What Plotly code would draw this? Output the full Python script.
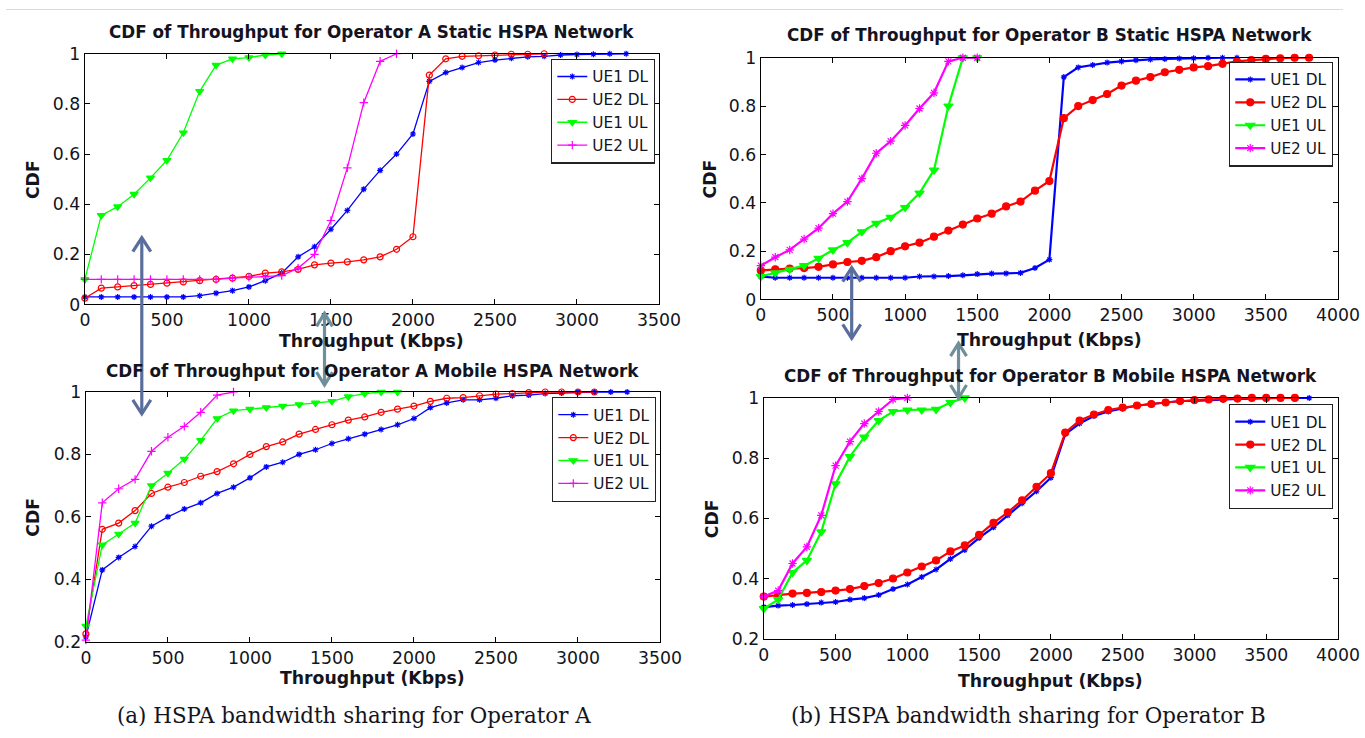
import plotly.graph_objects as go

# ---------------- data ----------------
# Operator A static
a_s_x_ue1dl = [0,100,200,300,400,500,600,700,800,900,1000,1100,1200,1300,1400,1500,1600,1700,1800,1900,2000,2100,2200,2300,2400,2500,2600,2700,2800,2900,3000,3100,3200,3300]
a_s_ue1dl = [0.03,0.03,0.03,0.03,0.03,0.03,0.03,0.035,0.045,0.055,0.07,0.095,0.125,0.19,0.23,0.30,0.375,0.46,0.535,0.60,0.68,0.89,0.925,0.945,0.965,0.975,0.982,0.988,0.99,0.995,0.997,0.998,1.0,1.0]
a_s_x_ue2dl = [0,100,200,300,400,500,600,700,800,900,1000,1100,1200,1300,1400,1500,1600,1700,1800,1900,2000,2100,2200,2300,2400,2500,2600,2700,2800]
a_s_ue2dl = [0.025,0.065,0.07,0.075,0.08,0.085,0.09,0.095,0.10,0.105,0.112,0.125,0.13,0.14,0.158,0.165,0.17,0.178,0.19,0.22,0.27,0.915,0.98,0.99,0.992,0.995,0.998,0.998,1.0]
a_s_x_ue1ul = [0,100,200,300,400,500,600,700,800,900,1000,1100,1200]
a_s_ue1ul = [0.10,0.355,0.39,0.44,0.505,0.575,0.685,0.85,0.955,0.98,0.985,0.995,1.0]
a_s_x_ue2ul = [0,100,200,300,400,500,600,700,800,900,1000,1100,1200,1300,1400,1500,1600,1700,1800,1900]
a_s_ue2ul = [0.10,0.10,0.10,0.10,0.10,0.10,0.10,0.10,0.10,0.105,0.108,0.11,0.115,0.145,0.20,0.335,0.545,0.805,0.97,1.0]

# Operator B static
b_s_x_ue1dl = [0,100,200,300,400,500,600,700,800,900,1000,1100,1200,1300,1400,1500,1600,1700,1800,1900,2000,2100,2200,2300,2400,2500,2600,2700,2800,2900,3000,3100,3200,3300]
b_s_ue1dl = [0.095,0.09,0.09,0.09,0.09,0.09,0.09,0.09,0.09,0.09,0.09,0.095,0.095,0.097,0.10,0.105,0.107,0.108,0.11,0.13,0.165,0.92,0.96,0.97,0.98,0.985,0.99,0.993,0.995,0.997,0.998,1.0,1.0,1.0]
b_s_x_ue2dl = [0,100,200,300,400,500,600,700,800,900,1000,1100,1200,1300,1400,1500,1600,1700,1800,1900,2000,2100,2200,2300,2400,2500,2600,2700,2800,2900,3000,3100,3200,3300,3400,3500,3600,3700,3800]
b_s_ue2dl = [0.12,0.125,0.128,0.13,0.135,0.145,0.155,0.16,0.175,0.20,0.22,0.235,0.26,0.285,0.31,0.335,0.355,0.385,0.405,0.45,0.49,0.75,0.80,0.825,0.85,0.885,0.905,0.92,0.94,0.95,0.96,0.965,0.975,0.985,0.99,0.995,0.998,1.0,1.0]
b_s_x_ue1ul = [0,100,200,300,400,500,600,700,800,900,1000,1100,1200,1300,1400,1500]
b_s_ue1ul = [0.095,0.11,0.125,0.14,0.17,0.205,0.235,0.28,0.315,0.34,0.38,0.44,0.535,0.80,1.0,1.0]
b_s_x_ue2ul = [0,100,200,300,400,500,600,700,800,900,1000,1100,1200,1300,1400,1500]
b_s_ue2ul = [0.14,0.175,0.205,0.25,0.295,0.355,0.405,0.50,0.605,0.655,0.72,0.79,0.855,0.985,1.0,1.0]

# Operator A mobile
a_m_x_ue1dl = [0,100,200,300,400,500,600,700,800,900,1000,1100,1200,1300,1400,1500,1600,1700,1800,1900,2000,2100,2200,2300,2400,2500,2600,2700,2800,2900,3000,3100,3200,3300]
a_m_ue1dl = [0.215,0.43,0.47,0.505,0.57,0.60,0.625,0.645,0.675,0.695,0.725,0.76,0.775,0.80,0.815,0.835,0.85,0.865,0.88,0.895,0.915,0.95,0.965,0.975,0.975,0.98,0.988,0.99,0.995,0.997,1.0,1.0,1.0,1.0]
a_m_x_ue2dl = [0,100,200,300,400,500,600,700,800,900,1000,1100,1200,1300,1400,1500,1600,1700,1800,1900,2000,2100,2200,2300,2400,2500,2600,2700,2800,2900,3000,3100]
a_m_ue2dl = [0.225,0.56,0.58,0.62,0.675,0.695,0.71,0.73,0.745,0.77,0.80,0.825,0.84,0.865,0.88,0.895,0.91,0.92,0.935,0.945,0.955,0.97,0.98,0.982,0.988,0.993,0.995,0.998,1.0,1.0,1.0,1.0]
a_m_x_ue1ul = [0,100,200,300,400,500,600,700,800,900,1000,1100,1200,1300,1400,1500,1600,1700,1800,1900]
a_m_ue1ul = [0.25,0.51,0.545,0.58,0.70,0.74,0.785,0.845,0.915,0.94,0.945,0.95,0.955,0.96,0.965,0.97,0.985,0.995,1.0,1.0]
a_m_x_ue2ul = [0,100,200,300,400,500,600,700,800,900]
a_m_ue2ul = [0.205,0.645,0.69,0.72,0.81,0.855,0.89,0.935,0.99,1.0]

# Operator B mobile
b_m_x_ue1dl = [0,100,200,300,400,500,600,700,800,900,1000,1100,1200,1300,1400,1500,1600,1700,1800,1900,2000,2100,2200,2300,2400,2500,2600,2700,2800,2900,3000,3100,3200,3300,3400,3500,3600,3700,3800]
b_m_ue1dl = [0.305,0.31,0.312,0.315,0.32,0.322,0.33,0.335,0.345,0.365,0.38,0.405,0.43,0.465,0.495,0.535,0.57,0.61,0.65,0.69,0.735,0.88,0.915,0.94,0.955,0.965,0.975,0.98,0.985,0.99,0.99,0.993,0.995,0.997,0.998,1.0,1.0,1.0,1.0]
b_m_x_ue2dl = [0,100,200,300,400,500,600,700,800,900,1000,1100,1200,1300,1400,1500,1600,1700,1800,1900,2000,2100,2200,2300,2400,2500,2600,2700,2800,2900,3000,3100,3200,3300,3400,3500,3600,3700]
b_m_ue2dl = [0.34,0.345,0.35,0.352,0.355,0.36,0.365,0.375,0.385,0.40,0.42,0.44,0.46,0.49,0.51,0.545,0.585,0.62,0.66,0.705,0.75,0.885,0.925,0.945,0.96,0.968,0.975,0.98,0.985,0.99,0.993,0.995,0.997,0.998,1.0,1.0,1.0,1.0]
b_m_x_ue1ul = [0,100,200,300,400,500,600,700,800,900,1000,1100,1200,1300,1400]
b_m_ue1ul = [0.30,0.33,0.42,0.46,0.555,0.715,0.805,0.87,0.925,0.955,0.96,0.96,0.962,0.985,1.0]
b_m_x_ue2ul = [0,100,200,300,400,500,600,700,800,900,1000]
b_m_ue2ul = [0.34,0.36,0.45,0.505,0.61,0.775,0.855,0.915,0.955,0.995,1.0]

series_names = ["UE1 DL", "UE2 DL", "UE1 UL", "UE2 UL"]
panel_titles = ["CDF of Throughput for Operator A Static HSPA Network",
                "CDF of Throughput for Operator B Static HSPA Network",
                "CDF of Throughput for Operator A Mobile HSPA Network",
                "CDF of Throughput for Operator B Mobile HSPA Network"]
x_title = "Throughput (Kbps)"
y_title = "CDF"
captions = ["(a) HSPA bandwidth sharing for Operator A",
            "(b) HSPA bandwidth sharing for Operator B"]

# ---------------- layout helpers ----------------
W, H = 1365, 738
# the photographed page comes out slightly shrunk/offset; map target pixels -> figure pixels
SX, OX, SY, OY = 0.981, 6.0, 0.978, 8.0
def px(x):
    return ((x - OX) / SX) / W
def py(y):
    return 1 - ((y - OY) / SY) / H
def fs(s):
    return round(s / 0.98, 1)

COLORS = ["#0000ff", "#ff0000", "#00ff00", "#ff00ff"]
TXT = "#141420"
SANS = "DejaVu Sans, Liberation Sans, Arial, sans-serif"
SERIF = "DejaVu Serif, Liberation Serif, serif"

# panel pixel boxes (target picture pixels): left, right, top, bottom
panels = [
    dict(box=(85, 660, 52, 304), xr=[0, 3500], yr=[0, 1], key="1", style="A",
         data=[(a_s_x_ue1dl, a_s_ue1dl), (a_s_x_ue2dl, a_s_ue2dl), (a_s_x_ue1ul, a_s_ue1ul), (a_s_x_ue2ul, a_s_ue2ul)],
         legend_pos=(656, 57), title_y=30, xt_y=341, yt_x=33),
    dict(box=(762, 1340, 56, 299), xr=[0, 4000], yr=[0, 1], key="2", style="B",
         data=[(b_s_x_ue1dl, b_s_ue1dl), (b_s_x_ue2dl, b_s_ue2dl), (b_s_x_ue1ul, b_s_ue1ul), (b_s_x_ue2ul, b_s_ue2ul)],
         legend_pos=(1335, 60), title_y=33, xt_y=340, yt_x=711),
    dict(box=(86, 661, 392, 643), xr=[0, 3500], yr=[0.2, 1], key="3", style="A",
         data=[(a_m_x_ue1dl, a_m_ue1dl), (a_m_x_ue2dl, a_m_ue2dl), (a_m_x_ue1ul, a_m_ue1ul), (a_m_x_ue2ul, a_m_ue2ul)],
         legend_pos=(657, 397), title_y=371, xt_y=679, yt_x=33),
    dict(box=(765, 1340, 398, 640), xr=[0, 4000], yr=[0.2, 1], key="4", style="B",
         data=[(b_m_x_ue1dl, b_m_ue1dl), (b_m_x_ue2dl, b_m_ue2dl), (b_m_x_ue1ul, b_m_ue1ul), (b_m_x_ue2ul, b_m_ue2ul)],
         legend_pos=(1335, 404), title_y=376, xt_y=683, yt_x=713),
]

symbols_A = ["asterisk-open", "circle-open", "triangle-down", "cross-thin-open"]
symbols_B = ["asterisk-open", "circle", "triangle-down", "asterisk-open"]

fig = go.Figure()
layout = dict(width=W, height=H, margin=dict(l=0, r=0, t=0, b=0),
              paper_bgcolor="white", plot_bgcolor="white", showlegend=True,
              font=dict(family=SANS, color=TXT))
annotations = []

def add_text(text, x, y, font, angle=0):
    annotations.append(dict(text=text, x=px(x), y=py(y), xref="paper", yref="paper",
                            xanchor="center", yanchor="middle", showarrow=False,
                            textangle=angle, font=font))

for i, p in enumerate(panels):
    l, r, t, b = p["box"]
    k = p["key"]
    xa = "x" if k == "1" else "x" + k
    ya = "y" if k == "1" else "y" + k
    leg = "legend" if k == "1" else "legend" + k
    syms = symbols_A if p["style"] == "A" else symbols_B
    lw = 1.3 if p["style"] == "A" else 2.2
    for j, (xs, ys) in enumerate(p["data"]):
        msize = [5, 6, 7, 6][j] if p["style"] == "A" else [5, 7, 8, 7][j]
        fig.add_trace(go.Scatter(
            x=xs, y=ys, name=series_names[j], mode="lines+markers",
            line=dict(color=COLORS[j], width=lw),
            marker=dict(symbol=syms[j], size=msize, color=COLORS[j],
                        line=dict(color=COLORS[j], width=1.2)),
            xaxis=xa, yaxis=ya, legend=leg, cliponaxis=False))
    axis_common = dict(showgrid=False, zeroline=False, showline=True, linecolor="black",
                       linewidth=1.3, mirror="allticks", ticks="inside", ticklen=5,
                       tickcolor="black", tickwidth=1.2, ticklabelstandoff=0,
                       tickfont=dict(family=SANS, size=fs(17), color=TXT))
    layout["xaxis" + ("" if k == "1" else k)] = dict(
        axis_common, domain=[px(l), px(r)], range=p["xr"], dtick=500, tick0=0,
        anchor=ya)
    layout["yaxis" + ("" if k == "1" else k)] = dict(
        axis_common, domain=[py(b), py(t)], range=p["yr"], dtick=0.2, tick0=0,
        anchor=xa)
    lx, ly = p["legend_pos"]
    layout[leg] = dict(x=px(lx), y=py(ly), xanchor="right", yanchor="top",
                       xref="paper", yref="paper",
                       bgcolor="white", bordercolor="#222", borderwidth=1.3,
                       font=dict(family=SANS, size=fs(15), color=TXT),
                       tracegroupgap=0, itemwidth=30)
    add_text("<b>" + panel_titles[i] + "</b>", (l + r) / 2, p["title_y"],
             dict(family=SANS, size=fs(16.5), color=TXT))
    add_text("<b>" + x_title + "</b>", (l + r) / 2, p["xt_y"],
             dict(family=SANS, size=fs(17), color=TXT))
    add_text("<b>" + y_title + "</b>", p["yt_x"], (t + b) / 2,
             dict(family=SANS, size=fs(17), color=TXT), angle=-90)

add_text(captions[0], 355, 717, dict(family=SERIF, size=fs(21), color=TXT))
add_text(captions[1], 1030, 717, dict(family=SERIF, size=fs(21), color=TXT))

# grey frame and decorative double-headed arrows
shapes = [
    dict(type="rect", xref="paper", yref="paper", x0=0, x1=1, y0=py(7), y1=1,
         fillcolor="#dedbd6", line=dict(width=0), layer="below"),
    dict(type="rect", xref="paper", yref="paper", x0=0, x1=px(6), y0=0, y1=1,
         fillcolor="#dedbd6", line=dict(width=0), layer="below"),
]
def double_arrow(x, y1, y2, color, hw=9, hh=14):
    s = [dict(type="line", xref="paper", yref="paper", x0=px(x), x1=px(x), y0=py(y1), y1=py(y2),
              line=dict(color=color, width=3.2), layer="above")]
    top = "M %f,%f L %f,%f L %f,%f" % (px(x - hw), py(y1 + hh), px(x), py(y1), px(x + hw), py(y1 + hh))
    bot = "M %f,%f L %f,%f L %f,%f" % (px(x - hw), py(y2 - hh), px(x), py(y2), px(x + hw), py(y2 - hh))
    for path in (top, bot):
        s.append(dict(type="path", xref="paper", yref="paper", path=path,
                      line=dict(color=color, width=3.2), layer="above"))
    return s

shapes += double_arrow(142, 237, 414, "#5a6e9c")
shapes += double_arrow(325, 313, 385, "#6f8f9b", hw=8, hh=13)
shapes += double_arrow(853, 267, 338, "#5a6e9c")
shapes += double_arrow(960, 343, 398, "#6f8f9b", hw=8, hh=13)

layout["annotations"] = annotations
layout["shapes"] = shapes
fig.update_layout(**layout)
fig.write_html("out.html", config={"displayModeBar": False},
               post_script="document.body.style.margin='0px';"
                           "document.body.style.background='linear-gradient(to bottom,#dedbd6 0,#dedbd6 7px,rgba(0,0,0,0) 7px),linear-gradient(to right,#dedbd6 0,#dedbd6 6px,#ffffff 6px)';")
